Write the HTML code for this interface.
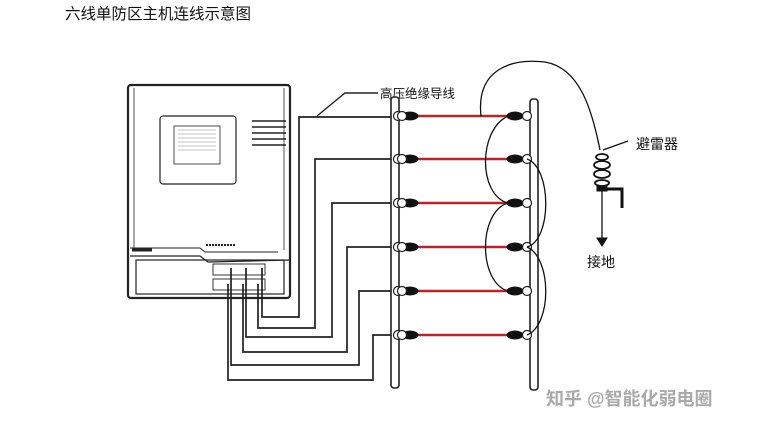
<!DOCTYPE html>
<html><head><meta charset="utf-8"><style>
html,body{margin:0;padding:0;background:#fff;}
svg{display:block}
text{font-family:"Liberation Sans","Noto Sans CJK SC",sans-serif;}
</style></head><body>
<svg width="775" height="429" viewBox="0 0 775 429" xmlns="http://www.w3.org/2000/svg">
<defs>
<g id="r">
<line x1="417" y1="0" x2="512" y2="0" stroke="#b02a2a" stroke-width="2.4"/>
<ellipse cx="410" cy="0" rx="8.5" ry="4.5" fill="#111"/>
<ellipse cx="515" cy="0" rx="8.5" ry="4.5" fill="#111"/>
<circle cx="398" cy="0" r="4.5" fill="#fff" stroke="#222" stroke-width="1.2"/>
<circle cx="402" cy="0" r="4.5" fill="#fff" stroke="#222" stroke-width="1.2"/>
<circle cx="527" cy="0" r="4.5" fill="#fff" stroke="#222" stroke-width="1.2"/>
</g>
</defs>
<rect width="775" height="429" fill="#fff"/>
<text x="65" y="19" font-size="15.5" fill="#111">六线单防区主机连线示意图</text>

<!-- device -->
<g fill="none" stroke="#222">
<rect x="128" y="85" width="162" height="213" rx="3" stroke-width="2.2"/>
<line x1="134" y1="88" x2="134" y2="250" stroke-width="0.8"/>
<line x1="284" y1="88" x2="284" y2="250" stroke-width="0.8"/>
<rect x="160" y="116" width="76" height="68" rx="3" stroke-width="1.2"/>
<rect x="174" y="126" width="46" height="38" stroke-width="0.8"/>
<g stroke-width="0.5" stroke="#888">
<line x1="178" y1="130" x2="216" y2="130"/><line x1="178" y1="134" x2="216" y2="134"/>
<line x1="178" y1="138" x2="216" y2="138"/><line x1="178" y1="142" x2="216" y2="142"/>
<line x1="178" y1="146" x2="216" y2="146"/><line x1="178" y1="150" x2="216" y2="150"/>
</g>
<g stroke-width="1.5">
<line x1="252" y1="121" x2="286" y2="121"/><line x1="252" y1="127" x2="286" y2="127"/>
<line x1="252" y1="133" x2="286" y2="133"/><line x1="252" y1="139" x2="286" y2="139"/>
<line x1="252" y1="145" x2="286" y2="145"/>
</g>
<path d="M130 248 L200 248 L205 252 L278 252" stroke-width="1"/>
<path d="M130 256 L200 256 L208 262 L290 260" stroke-width="1.2"/>
<rect x="136" y="260" width="148" height="34" stroke-width="1.2"/>
<rect x="213" y="264" width="52" height="11" stroke-width="0.9"/>
<rect x="213" y="279" width="52" height="11" stroke-width="0.9"/>
<line x1="132" y1="250" x2="152" y2="250" stroke-width="3"/>
<line x1="206" y1="245" x2="236" y2="245" stroke-width="2" stroke-dasharray="2,1"/>
</g>

<!-- wires device -> left post -->
<g fill="none" stroke="#222" stroke-width="1.7">
<polyline points="262,268 262,317 299,317 299,117 392,117"/>
<polyline points="258,284 258,328 315,328 315,159 392,159"/>
<polyline points="246,268 246,337 332,337 332,203 392,203"/>
<polyline points="243,284 243,352 347,352 347,247 392,247"/>
<polyline points="231,268 231,365 359,365 359,291 392,291"/>
<polyline points="228,284 228,380 373,380 373,335 392,335"/>
<polyline points="317,116 345,93 378,93" stroke-width="1.4"/>
</g>
<text x="380" y="98" font-size="12.5" fill="#111">高压绝缘导线</text>

<!-- posts -->
<rect x="391" y="97" width="8" height="291" rx="3" fill="#fff" stroke="#222" stroke-width="1.6"/>
<rect x="530" y="99" width="8" height="291" rx="3" fill="#fff" stroke="#222" stroke-width="1.6"/>

<use href="#r" transform="translate(0,116)"/>
<use href="#r" transform="translate(0,159)"/>
<use href="#r" transform="translate(0,203)"/>
<use href="#r" transform="translate(0,247)"/>
<use href="#r" transform="translate(0,291)"/>
<use href="#r" transform="translate(0,335)"/>

<!-- loops -->
<g fill="none" stroke="#111" stroke-width="1.3">
<path d="M508 116 C478 130 478 195 508 203"/>
<path d="M527 159 C552 168 552 240 527 247"/>
<path d="M508 203 C478 212 478 282 508 291"/>
<path d="M527 247 C552 258 552 325 527 335"/>
<path d="M481 116 C476 70 510 58 545 62 C580 68 592 110 600 150"/>
</g>

<!-- arrester -->
<g stroke="#111" fill="none">
<line x1="603" y1="150" x2="628" y2="141" stroke-width="1.3"/>
<ellipse cx="602" cy="157" rx="6" ry="3" fill="#fff" stroke-width="1.8"/>
<ellipse cx="602" cy="165" rx="8" ry="4" fill="#fff" stroke-width="1.8"/>
<ellipse cx="602" cy="174" rx="8" ry="4" fill="#fff" stroke-width="1.8"/>
<ellipse cx="602" cy="183" rx="7" ry="3" fill="#fff" stroke-width="1.8"/>
<rect x="597" y="186" width="10" height="5" fill="#111"/>
<polyline points="605,189 622,189 622,208" stroke-width="3"/>
<line x1="602" y1="191" x2="602" y2="240" stroke-width="1.3"/>
<path d="M597 238 L607 238 L602 246 Z" fill="#111"/>
</g>
<text x="636" y="149" font-size="14" fill="#111">避雷器</text>
<text x="587" y="267" font-size="14" fill="#111">接地</text>

<text x="546" y="405" font-size="18" fill="#aaa" font-weight="bold">知乎 @智能化弱电圈</text>
</svg>
</body></html>
